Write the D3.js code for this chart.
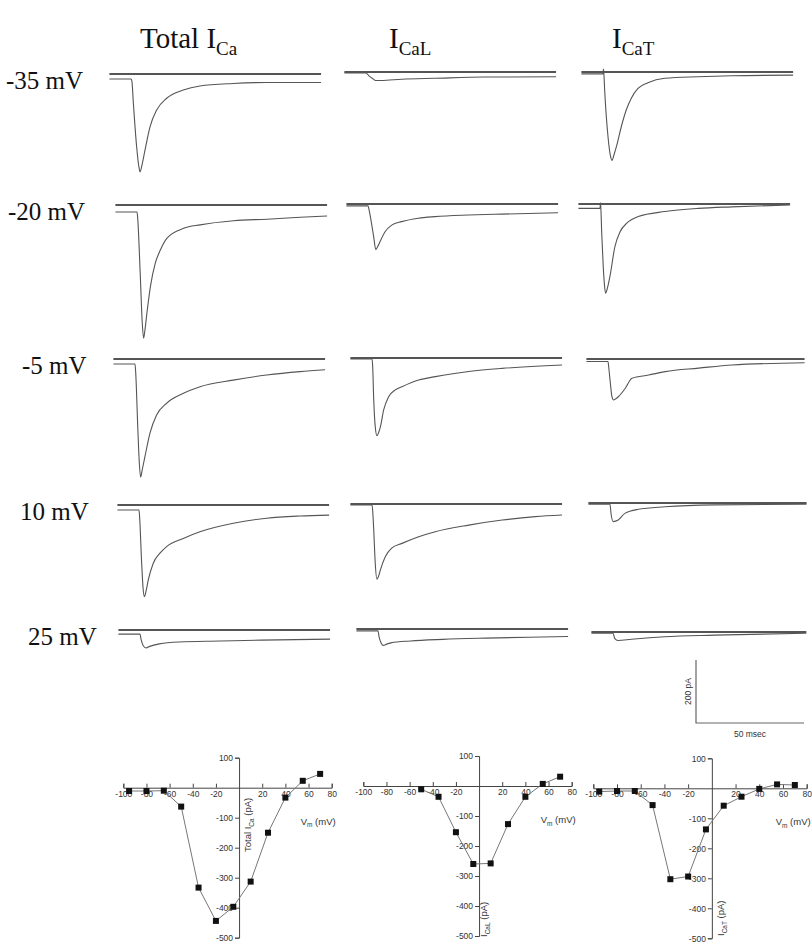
<!DOCTYPE html>
<html>
<head>
<meta charset="utf-8">
<script src="https://cdn.jsdelivr.net/npm/d3@7"></script>
<style>
  body { margin: 0; background: #fff; }
  svg { display: block; }
</style>
</head>
<body>
<div id="chart"></div>
<script>
// ---- data ----
const rowLabels = ['-35 mV', '-20 mV', '-5 mV', '10 mV', '25 mV'];
const columnTitles = [
  { main: 'Total I', sub: 'Ca' },
  { main: 'I', sub: 'CaL' },
  { main: 'I', sub: 'CaT' }
];

// current traces: [time ms from step onset, current pA], one list per test potential
const totalCaTraces = [
  [[-10,-16],[0,-16],[0.4,-22],[1.1,-93],[2.6,-230],[3.6,-292],[4.2,-311],[5.2,-285],[6.5,-241],[8.8,-168],[11.9,-114],[16.5,-77],[24.2,-51],[31.9,-38],[47.3,-30],[62.8,-27],[88,-27]],
  [[-10,-22],[0,-22],[0.3,-40],[1.5,-220],[2.4,-370],[3.05,-423],[3.8,-390],[4.6,-343],[6.2,-259],[8.5,-184],[10.8,-143],[13.9,-105],[21.6,-74],[29.3,-63],[44.7,-50],[60.2,-45],[75.6,-39],[88,-35]],
  [[-10,-16],[0,-16],[0.3,-40],[1.3,-220],[2.0,-330],[2.6,-375],[3.4,-350],[4.6,-310],[6.9,-236],[10.0,-178],[14.7,-140],[22.4,-109],[30.1,-88],[45.5,-67],[61.0,-51],[76.4,-40],[88,-34]],
  [[-10,-16],[0,-16],[0.3,-40],[1.2,-180],[1.9,-265],[2.5,-291],[3.2,-275],[4.3,-238],[6.6,-185],[9.7,-153],[12.8,-132],[20.5,-106],[28.2,-85],[43.7,-58],[59.1,-42],[74.5,-35],[88,-32]],
  [[-10,-13],[0,-13],[0.5,-30],[1.5,-50],[2.8,-57],[4.5,-52],[9,-44],[18,-38],[37,-35],[56,-32],[88,-29]]
];
const caLTraces = [
  [[-10,-3],[0,-3],[1.5,-13],[3.1,-21],[4.5,-27],[7,-27],[16.5,-23],[31.9,-20],[55,-16],[88,-15]],
  [[-10,-6],[0,-6],[0.3,-12],[1.1,-40],[2.6,-103],[3.6,-144],[4.5,-135],[5.6,-119],[7.9,-88],[11.0,-67],[15.6,-56],[23.3,-45],[31.0,-40],[46.5,-35],[61.9,-32],[88,-28]],
  [[-10,-3],[0,-3],[0.3,-25],[0.8,-133],[1.5,-218],[2.3,-247],[3.0,-238],[3.9,-218],[5.4,-165],[7.7,-123],[10.8,-101],[13.9,-91],[21.6,-70],[29.4,-59],[44.8,-43],[60.2,-33],[88,-22]],
  [[-10,-3],[0,-3],[0.3,-20],[0.8,-82],[1.5,-188],[2.3,-239],[3.0,-230],[3.9,-209],[6.2,-167],[9.1,-140],[13.9,-125],[21.6,-104],[29.3,-88],[44.8,-67],[60.3,-51],[75.6,-40],[88,-35]],
  [[-10,-6],[0,-6],[0.5,-25],[1.5,-45],[2.5,-52],[4,-48],[6,-44],[15,-38],[30,-33],[50,-29],[70,-26],[88,-24]]
];
const caTTraces = [
  [[-10,-6],[0,-6],[0.2,9],[0.4,-6],[0.8,-61],[2.3,-204],[3.4,-265],[4.2,-281],[5.0,-265],[6.2,-237],[8.5,-173],[10.8,-120],[13.1,-83],[16.2,-52],[20.8,-34],[28.6,-20],[44.1,-15],[59.5,-12],[88,-10]],
  [[-10,-14],[0,-14],[0.2,4],[0.4,-14],[0.8,-93],[1.5,-198],[2.1,-260],[2.6,-283],[3.5,-265],[4.6,-230],[6.9,-135],[9.3,-88],[12.4,-61],[17.7,-40],[30.1,-24],[45.5,-14],[61.0,-9],[88,-3]],
  [[-10,-8],[0,-8],[0.4,-30],[1.1,-77],[1.8,-119],[2.6,-130],[3.6,-126],[4.9,-119],[8.0,-93],[11.1,-61],[18.8,-51],[26.5,-40],[42.0,-29],[57.4,-19],[91,-12]],
  [[-10,-4],[0,-4],[0.5,-35],[1.5,-59],[3.8,-54],[6.9,-33],[13.1,-20],[25.5,-12],[48.6,-6],[91,-4]],
  [[-10,-4],[0,-4],[0.8,-20],[2.3,-27],[8.5,-23],[23.9,-15],[47,-10],[89.5,-4]]
];

// I-V relations (mV, pA)
const ivVoltsTotal = [-95, -80, -65, -50, -35, -20, -5, 10, 25, 40, 55, 70];
const ivTotal      = [-11, -11, -10, -63, -333, -444, -397, -313, -150, -33, 23, 46];
const ivVoltsL     = [-50, -35, -20, -5, 10, 25, 40, 55, 70];
const ivCaL        = [-11, -36, -154, -260, -258, -127, -36, 7, 31];
const ivVoltsT     = [-95, -80, -65, -50, -35, -20, -5, 10, 25, 40, 55, 70];
const ivCaT        = [-11, -9, -9, -56, -303, -294, -137, -58, -28, -2, 13, 11];
const ivXTicks = [-100, -80, -60, -40, -20, 20, 40, 60, 80];
const ivYTicks = [100, -100, -200, -300, -400, -500];

// scale bar values
const scaleBarPA = 200;
const scaleBarMs = 50;

// ---- layout ----
const PX_PER_MS = 2.16, PX_PER_PA = 0.315;
const onsetX = [[131, 137, 135, 139, 140], [366, 368, 372, 372, 378], [603, 600, 608, 610, 613]];
const zeroY = [[74, 205, 359, 505, 630], [72, 204, 358, 504, 629], [72, 204, 359, 503, 632]];
const rowLabelX = [6, 8, 22, 20, 28];
const titleX = [140, 389, 612];

const svg = d3.select('#chart').append('svg')
  .attr('width', 812)
  .attr('height', 943)
  .attr('viewBox', '0 0 812 943');

// column titles
columnTitles.forEach((t, i) => {
  const txt = svg.append('text')
    .attr('x', titleX[i]).attr('y', 48)
    .attr('font-family', 'Liberation Serif, Times New Roman, serif')
    .attr('font-size', 29).attr('fill', '#111');
  txt.append('tspan').text(t.main);
  txt.append('tspan').attr('dy', 7).attr('font-size', 19).text(t.sub);
});

// row labels, level with the first column's zero line
svg.selectAll('text.row')
  .data(rowLabels)
  .join('text')
  .attr('class', 'row')
  .attr('x', (d, i) => rowLabelX[i])
  .attr('y', (d, i) => zeroY[0][i] + 15)
  .attr('font-family', 'Liberation Serif, Times New Roman, serif')
  .attr('font-size', 25).attr('fill', '#111')
  .text(d => d);

// traces
const traceColumns = [totalCaTraces, caLTraces, caTTraces];
traceColumns.forEach((col, c) => {
  col.forEach((trace, r) => {
    const x = d3.scaleLinear().domain([0, 1]).range([onsetX[c][r], onsetX[c][r] + PX_PER_MS]);
    const y = d3.scaleLinear().domain([0, -1]).range([zeroY[c][r], zeroY[c][r] + PX_PER_PA]);
    const [t0, t1] = d3.extent(trace, d => d[0]);
    const g = svg.append('g');
    g.append('line')
      .attr('x1', x(t0)).attr('x2', x(t1))
      .attr('y1', y(0)).attr('y2', y(0))
      .attr('stroke', '#555').attr('stroke-width', 1.8);
    g.append('path')
      .datum(trace)
      .attr('fill', 'none')
      .attr('stroke', '#555').attr('stroke-width', 1.1)
      .attr('d', d3.line().x(d => x(d[0])).y(d => y(d[1])).curve(d3.curveMonotoneX));
  });
});

// scale bar
const sbX = d3.scaleLinear().domain([0, scaleBarMs]).range([696, 696 + scaleBarMs * PX_PER_MS]);
const sbY = d3.scaleLinear().domain([0, scaleBarPA]).range([723, 723 - scaleBarPA * PX_PER_PA]);
svg.append('path')
  .attr('d', `M${sbX(0)},${sbY(scaleBarPA)}V${sbY(0)}H${sbX(scaleBarMs)}`)
  .attr('fill', 'none').attr('stroke', '#666').attr('stroke-width', 1.2);
svg.append('text')
  .attr('transform', `translate(${sbX(0) - 5},${(sbY(0) + sbY(scaleBarPA)) / 2}) rotate(-90)`)
  .attr('text-anchor', 'middle')
  .attr('font-family', 'Liberation Sans, Arial, sans-serif').attr('font-size', 8.5).attr('fill', '#333')
  .text(scaleBarPA + ' pA');
svg.append('text')
  .attr('x', (sbX(0) + sbX(scaleBarMs)) / 2).attr('y', 737)
  .attr('text-anchor', 'middle')
  .attr('font-family', 'Liberation Sans, Arial, sans-serif').attr('font-size', 8.5).attr('fill', '#333')
  .text(scaleBarMs + ' msec');

// I-V plots
const ivPlots = [
  { volts: ivVoltsTotal, amps: ivTotal, xr: [123.3, 331.7], yr: [757.7, 937.7], label: ['Total I', 'Ca'], lab: [251, 852] },
  { volts: ivVoltsL, amps: ivCaL, xr: [363.3, 571.7], yr: [756, 936], label: ['I', 'CaL'], lab: [487, 937] },
  { volts: ivVoltsT, amps: ivCaT, xr: [593.3, 806.7], yr: [758.3, 938.3], label: ['I', 'CaT'], lab: [724, 936] }
];

ivPlots.forEach(p => {
  const x = d3.scaleLinear().domain([-100, 80]).range(p.xr);
  const y = d3.scaleLinear().domain([100, -500]).range(p.yr);
  const g = svg.append('g')
    .attr('font-family', 'Liberation Sans, Arial, sans-serif');

  // x axis through I = 0
  const xAxis = g.append('g').attr('transform', `translate(0,${y(0)})`);
  xAxis.call(d3.axisBottom(x).tickValues(d3.range(-100, 81, 10)).tickSize(-2).tickFormat(''));
  xAxis.call(d3.axisBottom(x).tickValues(ivXTicks).tickSize(-4).tickPadding(3).tickFormat(d => String(d)));
  // y axis through V = 0
  const yAxis = g.append('g').attr('transform', `translate(${x(0)},0)`);
  yAxis.call(d3.axisLeft(y).tickValues(d3.range(100, -501, -50)).tickSize(2).tickFormat(''));
  yAxis.call(d3.axisLeft(y).tickValues(ivYTicks).tickSize(4).tickPadding(2).tickFormat(d => String(d)));
  g.selectAll('.domain').attr('stroke', '#444');
  g.selectAll('.tick line').attr('stroke', '#444');
  g.selectAll('.tick text').attr('font-size', 8.5).attr('fill', '#333');

  const pts = p.volts.map((v, i) => [v, p.amps[i]]);
  g.append('path')
    .datum(pts)
    .attr('fill', 'none').attr('stroke', '#777').attr('stroke-width', 1)
    .attr('d', d3.line().x(d => x(d[0])).y(d => y(d[1])));
  g.selectAll('rect.pt')
    .data(pts)
    .join('rect')
    .attr('class', 'pt')
    .attr('x', d => x(d[0]) - 3).attr('y', d => y(d[1]) - 3)
    .attr('width', 6).attr('height', 6)
    .attr('fill', '#111');

  // axis titles
  const vt = g.append('text')
    .attr('x', x(80) + 4).attr('y', y(0) + 37)
    .attr('text-anchor', 'end').attr('font-size', 9.5).attr('fill', '#333');
  vt.append('tspan').text('V');
  vt.append('tspan').attr('dy', 2.5).attr('font-size', 6.5).text('m');
  vt.append('tspan').attr('dy', -2.5).text(' (mV)');

  const it = g.append('text')
    .attr('transform', `translate(${p.lab[0]},${p.lab[1]}) rotate(-90)`)
    .attr('font-size', 9.5).attr('fill', '#333');
  it.append('tspan').text(p.label[0]);
  it.append('tspan').attr('dy', 2.5).attr('font-size', 6.5).text(p.label[1]);
  it.append('tspan').attr('dy', -2.5).text(' (pA)');
});
</script>
</body>
</html>
